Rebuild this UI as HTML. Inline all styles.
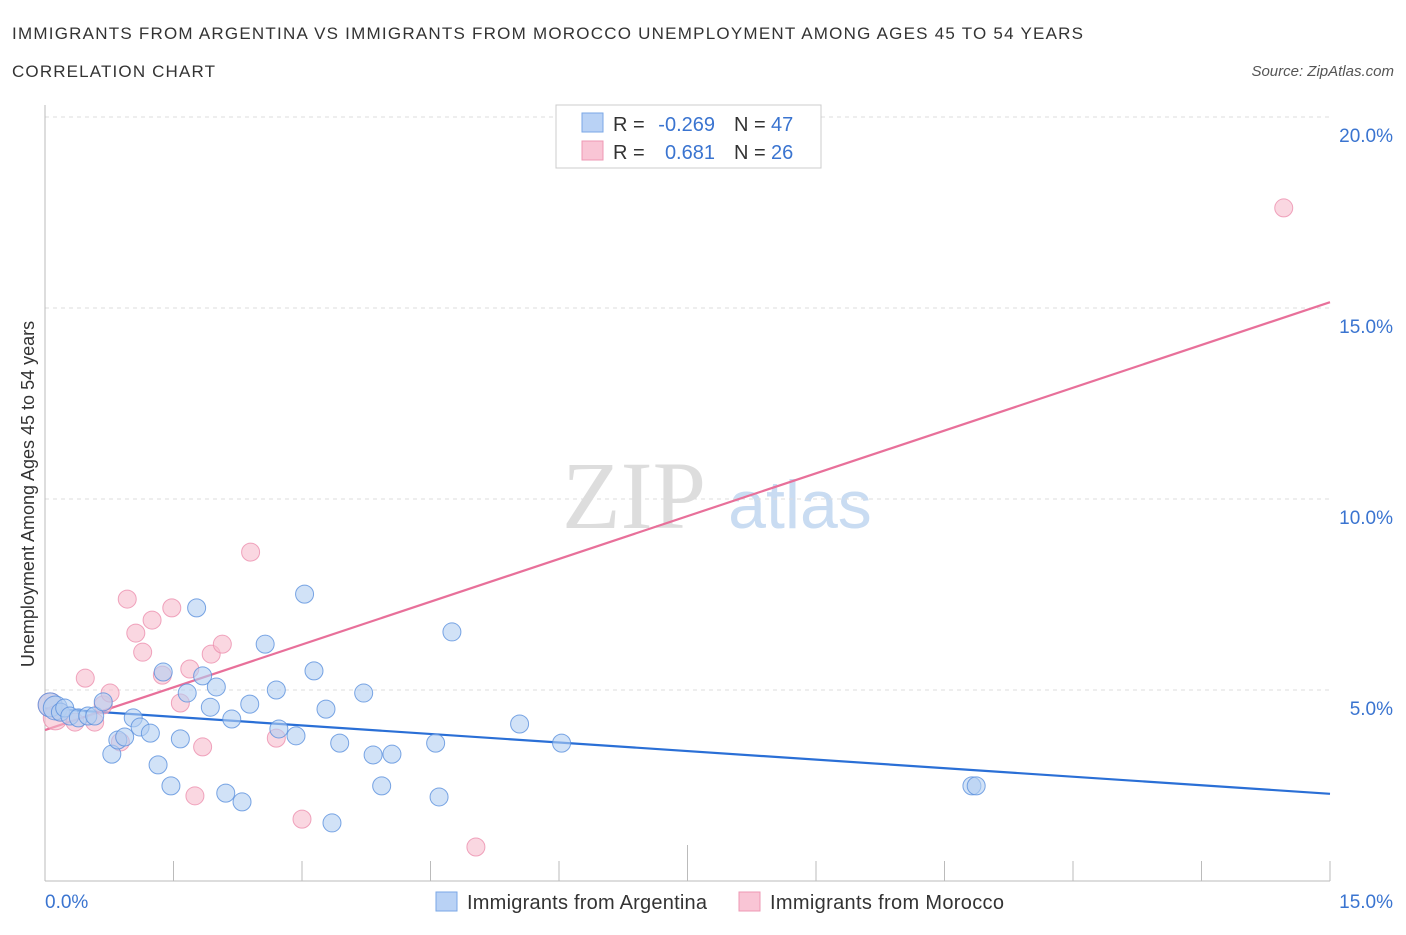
<!DOCTYPE html>
<html><head><meta charset="utf-8"><style>
body{margin:0;background:#fff;font-family:"Liberation Sans",sans-serif;}
svg text{font-family:"Liberation Sans",sans-serif;}
</style></head><body>
<svg id="chart" width="1406" height="930" xmlns="http://www.w3.org/2000/svg">
<text x="12" y="39" font-size="17" fill="#333" textLength="1071">IMMIGRANTS FROM ARGENTINA VS IMMIGRANTS FROM MOROCCO UNEMPLOYMENT AMONG AGES 45 TO 54 YEARS</text>
<text x="12" y="77" font-size="17" fill="#333" textLength="203">CORRELATION CHART</text>
<text x="1394" y="76" font-size="15" fill="#555" text-anchor="end" font-style="italic">Source: ZipAtlas.com</text>
<text x="634" y="528" font-size="96" fill="#ddd" text-anchor="middle" style="font-family:'Liberation Serif',serif">ZIP</text>
<text x="800" y="528" font-size="68" fill="#c9dcf2" text-anchor="middle">atlas</text>
<g id="grid"></g><g id="axes"></g><g id="lines"></g><g id="pts"></g>
<text transform="translate(34,494) rotate(-90)" font-size="18" fill="#333" text-anchor="middle">Unemployment Among Ages 45 to 54 years</text>
<g>
<rect x="556" y="105" width="265" height="63" fill="#fff" stroke="#ccc"/>
<rect x="582" y="113" width="21" height="19" fill="#b9d2f5" stroke="#7aa7e6"/>
<rect x="582" y="141" width="21" height="19" fill="#f9c5d5" stroke="#ee98b4"/>
<text x="613" y="131" font-size="20" fill="#333">R =</text>
<text x="715" y="131" font-size="20" fill="#3a74d0" text-anchor="end">-0.269</text>
<text x="734" y="131" font-size="20" fill="#333">N =</text>
<text x="771" y="131" font-size="20" fill="#3a74d0">47</text>
<text x="613" y="159" font-size="20" fill="#333">R =</text>
<text x="715" y="159" font-size="20" fill="#3a74d0" text-anchor="end">0.681</text>
<text x="734" y="159" font-size="20" fill="#333">N =</text>
<text x="771" y="159" font-size="20" fill="#3a74d0">26</text>
</g>
<g>
<rect x="436" y="892" width="21" height="19" fill="#b9d2f5" stroke="#7aa7e6"/>
<text x="467" y="909" font-size="20" fill="#333" textLength="240">Immigrants from Argentina</text>
<rect x="739" y="892" width="21" height="19" fill="#f9c5d5" stroke="#ee98b4"/>
<text x="770" y="909" font-size="20" fill="#333" textLength="234">Immigrants from Morocco</text>
</g>
</svg>
<script>
const blueX=[0.06,0.12,0.18,0.23,0.29,0.39,0.50,0.58,0.68,0.78,0.85,0.93,1.03,1.11,1.23,1.32,1.38,1.47,1.58,1.66,1.77,1.84,1.93,2.00,2.11,2.18,2.30,2.39,2.57,2.70,2.73,2.93,3.03,3.14,3.28,3.35,3.44,3.72,3.83,3.93,4.05,4.56,4.60,4.75,5.54,6.03,10.82,10.87];
const blueY=[4.61,4.53,4.42,4.53,4.32,4.27,4.32,4.32,4.69,3.32,3.69,3.77,4.27,4.03,3.87,3.04,5.47,2.49,3.72,4.92,7.15,5.37,4.55,5.08,2.30,4.24,2.07,4.63,6.20,5.00,3.98,3.80,7.51,5.50,4.50,1.52,3.61,4.92,3.30,2.49,3.32,3.61,2.20,6.52,4.11,3.61,2.49,2.49];
const pinkX=[0.06,0.12,0.18,0.35,0.47,0.58,0.68,0.76,0.88,0.96,1.06,1.14,1.25,1.37,1.48,1.58,1.69,1.75,1.84,1.94,2.07,2.40,2.70,3.00,5.03,14.46];
const pinkY=[4.61,4.27,4.42,4.16,5.31,4.16,4.61,4.92,3.64,7.38,6.49,5.99,6.83,5.39,7.15,4.66,5.55,2.23,3.51,5.94,6.20,8.61,3.74,1.62,0.89,17.62];
const yTicks=[5,10,15,20];
const yTickLabels=["5.0%","10.0%","15.0%","20.0%"];
const xTicks=[0,1.5,3,4.5,6,7.5,9,10.5,12,13.5,15];
const xEndLabels=["0.0%","15.0%"];
const NS="http://www.w3.org/2000/svg";
const X=v=>45+v/15*1285, Y=v=>881-v/5*191;
function mk(p,t,a){const e=document.createElementNS(NS,t);for(const k in a)e.setAttribute(k,a[k]);document.getElementById(p).appendChild(e);return e;}
yTicks.forEach((v,i)=>{
 const l=mk('grid','line',{x1:45,x2:1330,y1:Y(v),y2:Y(v),stroke:'#ddd','stroke-dasharray':'4,4'});
 
 
 const t=mk('grid','text',{x:1393,y:Y(v)+25,'font-size':19,fill:'#3a74d0','text-anchor':'end'});
 t.textContent=yTickLabels[i];
 
 
});
const ax=mk('axes','line',{x1:45,x2:45,y1:105,y2:881,stroke:'#bbb'});


const bx=mk('axes','line',{x1:45,x2:1330,y1:881,y2:881,stroke:'#bbb'});


xTicks.forEach((v,i)=>{
 const l=mk('axes','line',{x1:X(v),x2:X(v),y1:i==5?845:861,y2:881,stroke:'#bbb'});
 
 
});
[[0,'start',45],[1,'end',1393]].forEach(([i,a,x])=>{
 const t=mk('axes','text',{x:x,y:908,'font-size':19,fill:'#3a74d0','text-anchor':a});
 t.textContent=xEndLabels[i];
 
 
});
function reg(xs,ys){const n=xs.length;let mx=0,my=0;xs.forEach((x,i)=>{mx+=x;my+=ys[i];});mx/=n;my/=n;let sxy=0,sxx=0;xs.forEach((x,i)=>{sxy+=(x-mx)*(ys[i]-my);sxx+=(x-mx)**2;});const b=sxy/sxx;return [my-b*mx,b];}
function drawLine(xs,ys,c,name){const [a,b]=reg(xs,ys);const l=mk('lines','line',{x1:X(0),y1:Y(a),x2:X(15),y2:Y(a+b*15),stroke:c,'stroke-width':2.2});
 
 }
function drawPts(xs,ys,f,s,name){xs.forEach((x,i)=>{const c=mk('pts','circle',{cx:X(x),cy:Y(ys[i]),r:i<2?12:9,fill:f,'fill-opacity':0.6,stroke:s,'stroke-width':1,'stroke-opacity':0.8});
 
 });}
drawPts(pinkX,pinkY,'#f7bccd','#ec8fae','point-morocco');
drawPts(blueX,blueY,'#b3cef2','#5a90dd','point-argentina');
drawLine(blueX,blueY,'#2a6fd6','trend-line-argentina');
drawLine(pinkX,pinkY,'#e8709a','trend-line-morocco');
</script>
</body></html>
